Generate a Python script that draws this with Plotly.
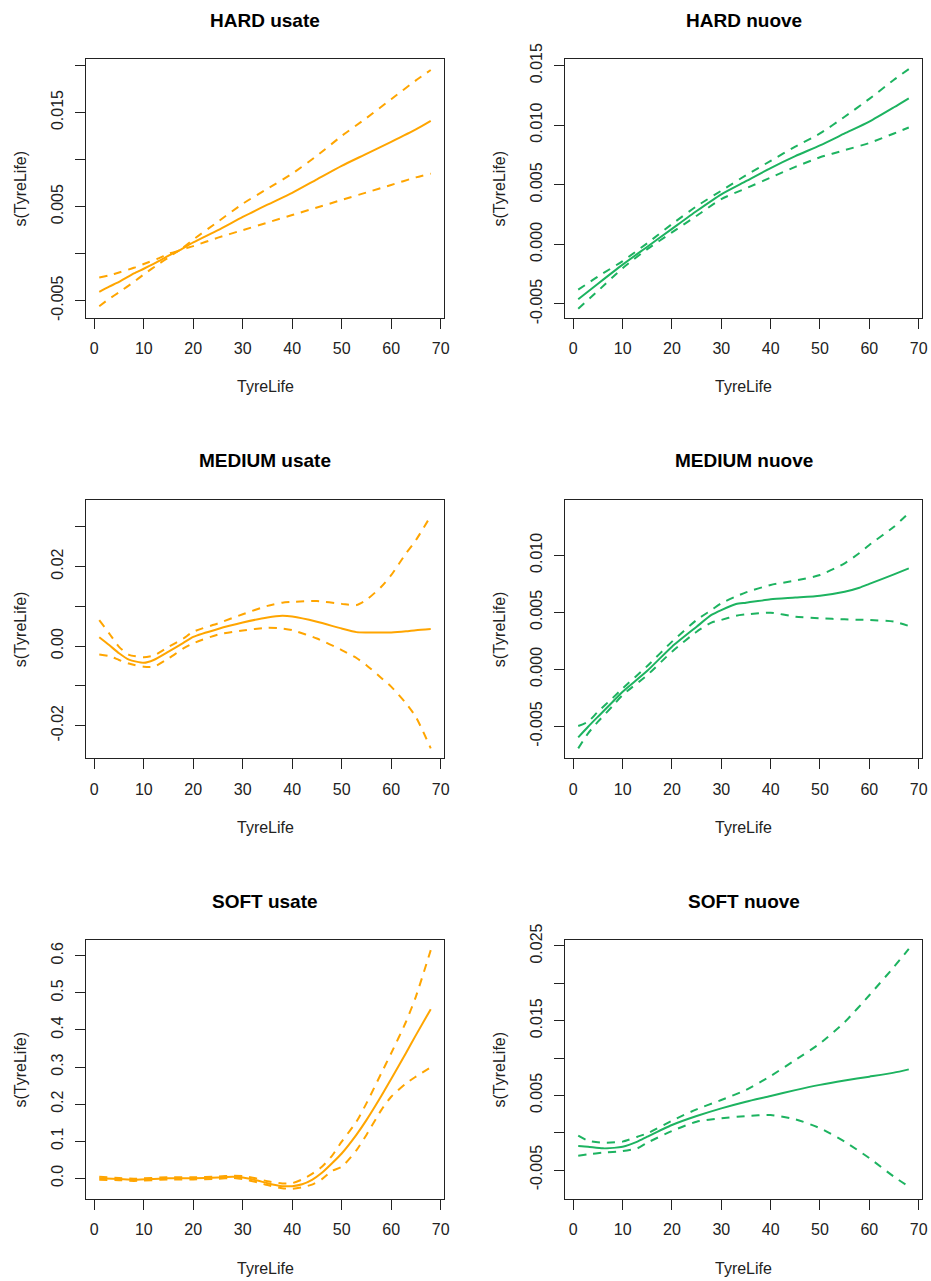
import plotly.graph_objects as go

# ---------------- data ----------------
# HARD usate
hu_x = [1, 3, 5, 8, 10, 13, 15, 17, 20, 25, 30, 35, 40, 45, 50, 55, 60, 65, 68]
hu_fit = [-0.00405, -0.0035, -0.0030, -0.0021, -0.0016, -0.0008, -0.0002, 0.0003, 0.0012, 0.0025, 0.0039, 0.0052, 0.00646, 0.0079, 0.00933, 0.0106, 0.01188, 0.0132, 0.01411]
hu_up = [-0.00253, -0.0023, -0.0020, -0.0015, -0.0011, -0.0005, 0.0, 0.0003, 0.0015, 0.0034, 0.0053, 0.0069, 0.0085, 0.0104, 0.0125, 0.0144, 0.0164, 0.0184, 0.0195]
hu_lo = [-0.00558, -0.0048, -0.0041, -0.0030, -0.0022, -0.0011, -0.0004, 0.0003, 0.0008, 0.0017, 0.0025, 0.0033, 0.0041, 0.0049, 0.0057, 0.0065, 0.0073, 0.0081, 0.0085]

# HARD nuove
hn_x = [1, 5, 10, 15, 20, 25, 30, 35, 40, 45, 50, 55, 60, 65, 68]
hn_fit = [-0.0046, -0.0033, -0.0017, -0.0002, 0.0013, 0.0028, 0.0042, 0.0053, 0.0064, 0.0074, 0.0083, 0.0093, 0.0103, 0.0115, 0.01225]
hn_up = [-0.0038, -0.0027, -0.0014, 0.0001, 0.0017, 0.0032, 0.0045, 0.0058, 0.0070, 0.0082, 0.0093, 0.0107, 0.0122, 0.0138, 0.0147]
hn_lo = [-0.0054, -0.0039, -0.0020, -0.0004, 0.0010, 0.0024, 0.0038, 0.0047, 0.0056, 0.0065, 0.0073, 0.0079, 0.0085, 0.0093, 0.0098]

# MEDIUM usate
mu_x = [1, 3, 5, 7, 10, 12, 15, 18, 20, 25, 30, 35, 38, 40, 45, 50, 53, 55, 58, 60, 63, 65, 68]
mu_fit = [0.0022, 0.00025, -0.0018, -0.0034, -0.0042, -0.0035, -0.0014, 0.0008, 0.0023, 0.0043, 0.0059, 0.0072, 0.0076, 0.0074, 0.0061, 0.0044, 0.0035, 0.0034, 0.0034, 0.0034, 0.0037, 0.0040, 0.0043]
mu_up = [0.0065, 0.0032, -0.0002, -0.0022, -0.0028, -0.0024, -0.0002, 0.0019, 0.0036, 0.0057, 0.0080, 0.0101, 0.0109, 0.0111, 0.0113, 0.0106, 0.0103, 0.0116, 0.0149, 0.0178, 0.0233, 0.0266, 0.0327]
mu_lo = [-0.0021, -0.0025, -0.0035, -0.0044, -0.0052, -0.0052, -0.0031, -0.0006, 0.0007, 0.0029, 0.0039, 0.0046, 0.0044, 0.0040, 0.0019, -0.0010, -0.0030, -0.0048, -0.0080, -0.0102, -0.0144, -0.0178, -0.0257]

# MEDIUM nuove
mn_x = [1, 3, 5, 8, 10, 15, 20, 25, 28, 30, 33, 35, 40, 45, 50, 55, 58, 60, 65, 68]
mn_fit = [-0.00596, -0.00503, -0.00415, -0.00284, -0.00196, -0.00012, 0.00199, 0.00374, 0.00477, 0.0052, 0.00573, 0.00585, 0.00614, 0.00629, 0.00646, 0.00681, 0.00716, 0.00749, 0.00833, 0.00886]
mn_up = [-0.00497, -0.00459, -0.00371, -0.0025, -0.00167, 0.00029, 0.00243, 0.00433, 0.0052, 0.00579, 0.0064, 0.00675, 0.0074, 0.00778, 0.00827, 0.0093, 0.0102, 0.01091, 0.01251, 0.0137]
mn_lo = [-0.00693, -0.00561, -0.00459, -0.0032, -0.00225, -0.0005, 0.00155, 0.0033, 0.0041, 0.00433, 0.0047, 0.00482, 0.00497, 0.00462, 0.00447, 0.00439, 0.00435, 0.00433, 0.00418, 0.0038]

# SOFT usate
su_x = [1, 5, 8, 15, 20, 25, 28, 30, 33, 35, 38, 40, 42, 44, 46, 48, 50, 53, 55, 58, 60, 63, 65, 68]
su_fit = [0.0, -0.002, -0.004, 0.0, 0.0, 0.002, 0.004, 0.002, -0.006, -0.013, -0.021, -0.021, -0.016, -0.004, 0.015, 0.040, 0.067, 0.118, 0.157, 0.222, 0.268, 0.338, 0.386, 0.456]
su_up = [0.004, 0.001, -0.001, 0.003, 0.003, 0.005, 0.007, 0.006, -0.001, -0.008, -0.014, -0.013, -0.003, 0.012, 0.031, 0.060, 0.099, 0.153, 0.202, 0.283, 0.337, 0.422, 0.490, 0.615]
su_lo = [-0.004, -0.005, -0.007, -0.003, -0.003, -0.001, 0.001, -0.002, -0.011, -0.018, -0.027, -0.028, -0.024, -0.017, -0.002, 0.020, 0.031, 0.076, 0.117, 0.184, 0.220, 0.256, 0.274, 0.299]

# SOFT nuove
sn_x = [1, 3, 6, 10, 13, 15, 20, 25, 30, 35, 40, 45, 50, 55, 60, 65, 68]
sn_fit = [-0.00179, -0.00188, -0.0021, -0.00188, -0.0012, -0.00054, 0.00103, 0.00223, 0.00326, 0.00415, 0.00491, 0.0057, 0.0064, 0.00698, 0.0075, 0.00804, 0.00848]
sn_up = [-0.0004, -0.00107, -0.00134, -0.0012, -0.00054, -0.0001, 0.00161, 0.00313, 0.00438, 0.00571, 0.00759, 0.00973, 0.01196, 0.0148, 0.0184, 0.0222, 0.0246]
sn_lo = [-0.00308, -0.0029, -0.00268, -0.00246, -0.0021, -0.00134, 0.00022, 0.00147, 0.00192, 0.00223, 0.00237, 0.0018, 0.0006, -0.0012, -0.0034, -0.0059, -0.0072]

titles = ["HARD usate", "HARD nuove", "MEDIUM usate", "MEDIUM nuove", "SOFT usate", "SOFT nuove"]
x_ticks = [0, 10, 20, 30, 40, 50, 60, 70]

y_ticks = [
    ([-0.005, 0.0, 0.005, 0.010, 0.015, 0.020], ["-0.005", "", "0.005", "", "0.015", ""]),
    ([-0.005, 0.0, 0.005, 0.010, 0.015], ["-0.005", "0.000", "0.005", "0.010", "0.015"]),
    ([-0.02, -0.01, 0.0, 0.01, 0.02, 0.03], ["-0.02", "", "0.00", "", "0.02", ""]),
    ([-0.005, 0.0, 0.005, 0.010], ["-0.005", "0.000", "0.005", "0.010"]),
    ([0.0, 0.1, 0.2, 0.3, 0.4, 0.5, 0.6], ["0.0", "0.1", "0.2", "0.3", "0.4", "0.5", "0.6"]),
    ([-0.005, 0.0, 0.005, 0.010, 0.015, 0.020, 0.025], ["-0.005", "", "0.005", "", "0.015", "", "0.025"]),
]
y_ranges = [
    [-0.0068, 0.02064],
    [-0.00615, 0.01552],
    [-0.0282, 0.0367],
    [-0.0078, 0.01485],
    [-0.0557, 0.6424],
    [-0.00888, 0.0258],
]

ORANGE = "#FFA500"
GREEN = "#1DB360"

series = [
    (hu_x, hu_fit, hu_up, hu_lo, ORANGE),
    (hn_x, hn_fit, hn_up, hn_lo, GREEN),
    (mu_x, mu_fit, mu_up, mu_lo, ORANGE),
    (mn_x, mn_fit, mn_up, mn_lo, GREEN),
    (su_x, su_fit, su_up, su_lo, ORANGE),
    (sn_x, sn_fit, sn_up, sn_lo, GREEN),
]

# ---------------- layout geometry (pixels) ----------------
W, H = 931, 1281
col_x = [(86, 444), (565, 922)]
row_y = [(59.3, 317.7), (500, 758.3), (940, 1199)]

FONT = "Liberation Sans, Arial, sans-serif"

fig = go.Figure()
annotations = []
layout_axes = {}

for i, (xs, fit, up, lo, col) in enumerate(series):
    r, c = divmod(i, 2)
    x0, x1 = col_x[c]
    yt, yb = row_y[r]
    xa = "x" if i == 0 else f"x{i+1}"
    ya = "y" if i == 0 else f"y{i+1}"
    xkey = "xaxis" if i == 0 else f"xaxis{i+1}"
    ykey = "yaxis" if i == 0 else f"yaxis{i+1}"

    fig.add_trace(go.Scatter(x=xs, y=fit, xaxis=xa, yaxis=ya, mode="lines",
                             line=dict(color=col, width=2, shape="spline", smoothing=0.6),
                             showlegend=False, hoverinfo="skip"))
    for band in (up, lo):
        fig.add_trace(go.Scatter(x=xs, y=band, xaxis=xa, yaxis=ya, mode="lines",
                                 line=dict(color=col, width=2, dash="8px,7px", shape="spline", smoothing=0.6),
                                 showlegend=False, hoverinfo="skip"))

    tv, tt = y_ticks[i]
    common = dict(
        ticks="outside", ticklen=10, tickwidth=1, tickcolor="#222",
        showline=True, linecolor="#222", linewidth=1, mirror=True,
        showgrid=False, zeroline=False, automargin=False,
        tickfont=dict(family=FONT, size=16, color="#222"),
        ticklabelstandoff=6,
    )
    layout_axes[xkey] = dict(
        domain=[x0 / W, x1 / W], anchor=ya, range=[-1.68, 70.68],
        tickmode="array", tickvals=x_ticks, ticktext=[str(v) for v in x_ticks],
        **common,
    )
    layout_axes[ykey] = dict(
        domain=[1 - yb / H, 1 - yt / H], anchor=xa, range=y_ranges[i],
        tickmode="array", tickvals=tv, ticktext=tt, tickangle=-90,
        **common,
    )

    cx = (x0 + x1) / 2
    annotations.append(dict(text=f"<b>{titles[i]}</b>", x=cx / W, y=1 - (yt - 39) / H,
                            xref="paper", yref="paper", showarrow=False,
                            xanchor="center", yanchor="middle",
                            font=dict(family=FONT, size=19, color="#000")))
    annotations.append(dict(text="TyreLife", x=cx / W, y=1 - (yb + 69) / H,
                            xref="paper", yref="paper", showarrow=False,
                            xanchor="center", yanchor="middle",
                            font=dict(family=FONT, size=16, color="#222")))
    annotations.append(dict(text="s(TyreLife)", x=(x0 - 66) / W, y=1 - ((yt + yb) / 2) / H,
                            xref="paper", yref="paper", showarrow=False, textangle=-90,
                            xanchor="center", yanchor="middle",
                            font=dict(family=FONT, size=16, color="#222")))

fig.update_layout(
    template="none",
    width=W, height=H, margin=dict(l=0, r=0, t=0, b=0, autoexpand=False),
    paper_bgcolor="white", plot_bgcolor="white",
    annotations=annotations, **layout_axes,
)

fig.write_html("out.html", config={"displayModeBar": False})
